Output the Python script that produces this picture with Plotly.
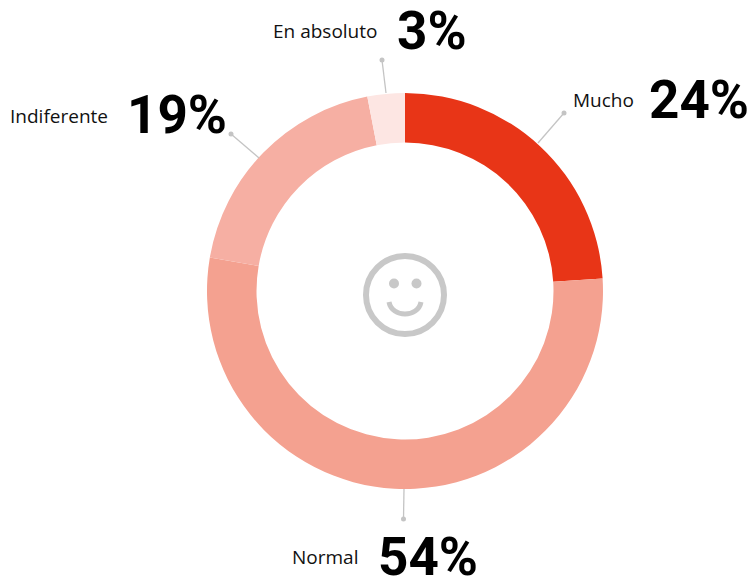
import plotly.graph_objects as go

categories = ["Mucho", "Normal", "Indiferente", "En absoluto"]
values = [24, 54, 19, 3]                # printed percentages
shares = [24.0, 53.7, 19.25, 3.05]      # unrounded arc sizes as read from the ring
colors = ["#E83517", "#F4A190", "#F6AFA3", "#FDE6E3"]

W, H = 755, 578
def px(x): return x / W
def py(y): return 1 - y / H

GRAY = "#C8C8C8"
LINE = "#C4C4C4"
TEXT = "#111111"
LABEL_FONT = "Open Sans"
BIG_FONT = "Roboto"

fig = go.Figure(go.Pie(
    labels=categories, values=shares, sort=False, direction="clockwise", rotation=0,
    hole=148.5 / 198, textinfo="none", showlegend=False,
    marker=dict(colors=colors, line=dict(width=0)),
    domain=dict(x=[px(207), px(603)], y=[py(489), py(93)]),
))

shapes, annotations = [], []

# leader lines: (x0, y0, x1, y1)
leaders = [(538, 143, 564, 113), (404, 489, 403.5, 519), (259, 158, 231, 134), (386, 93, 382, 60)]
for x0, y0, x1, y1 in leaders:
    shapes.append(dict(type="line", xref="paper", yref="paper", x0=px(x0), y0=py(y0), x1=px(x1), y1=py(y1),
                       line=dict(color=LINE, width=1.3)))
    shapes.append(dict(type="circle", xref="paper", yref="paper", x0=px(x1 - 2.5), x1=px(x1 + 2.5),
                       y0=py(y1 + 2.5), y1=py(y1 - 2.5), fillcolor=LINE, line=dict(width=0)))

# label placement: label left, label centre y, number left, number centre y
placement = {
    "Mucho": (572, 100, 648, 100),
    "Normal": (291, 557, 377, 556.5),
    "Indiferente": (9, 116, 126, 115),
    "En absoluto": (272, 31, 396, 31),
}
for cat, val in zip(categories, values):
    lx, ly, nx, ny = placement[cat]
    annotations.append(dict(text=cat, x=px(lx), y=py(ly), xref="paper", yref="paper", xanchor="left", yanchor="middle",
                            showarrow=False, borderpad=0, font=dict(family=LABEL_FONT, size=19, color=TEXT)))
    annotations.append(dict(text=f"<b>{val}%</b>", x=px(nx), y=py(ny), xref="paper", yref="paper", xanchor="left", yanchor="middle",
                            showarrow=False, borderpad=0, font=dict(family=BIG_FONT, size=53, color="#000000")))

# smiley
shapes.append(dict(type="circle", xref="paper", yref="paper", x0=px(366), x1=px(444), y0=py(334), y1=py(256),
                   line=dict(color=GRAY, width=6)))
for ex in (394, 416.5):
    shapes.append(dict(type="circle", xref="paper", yref="paper", x0=px(ex - 5), x1=px(ex + 5), y0=py(288.5), y1=py(278.5),
                       fillcolor=GRAY, line=dict(width=0)))
shapes.append(dict(type="path", xref="paper", yref="paper",
                   path=f"M {px(389)} {py(302)} C {px(392)} {py(318)}, {px(418)} {py(318)}, {px(421)} {py(302)}",
                   line=dict(color=GRAY, width=5)))

fig.update_layout(width=W, height=H, margin=dict(l=0, r=0, t=0, b=0), paper_bgcolor="white", plot_bgcolor="white",
                  shapes=shapes, annotations=annotations)
fig.write_html("out.html", config=dict(displayModeBar=False),
               post_script="document.body.style.margin='0';document.documentElement.style.overflow='hidden';")
